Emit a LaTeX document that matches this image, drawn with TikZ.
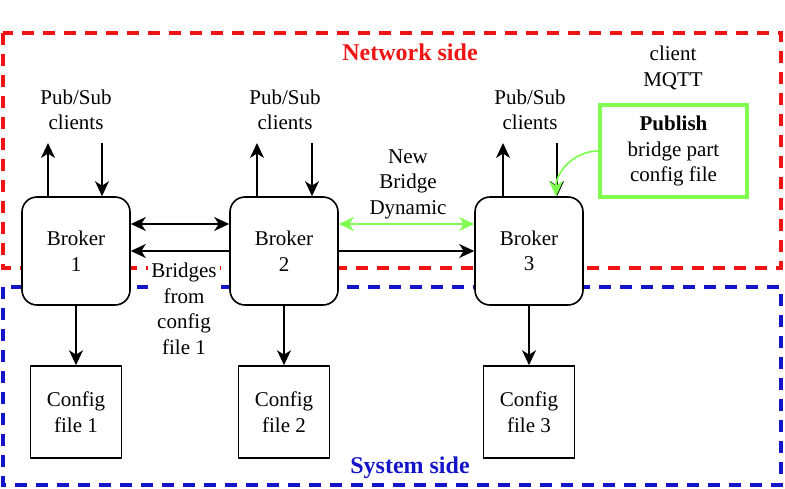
\documentclass[tikz,border=0pt]{standalone}
\usepackage{fontspec}
\setmainfont{Liberation Serif}
\usetikzlibrary{arrows.meta}
\definecolor{netred}{RGB}{240,20,20}
\definecolor{sysblue}{RGB}{20,20,200}
\definecolor{lgreen}{RGB}{128,255,80}
\tikzset{
  x=1pt, y=-1pt,
  tipA/.tip={Stealth[length=15pt,width=14pt,inset=4.5pt]},
  txt/.style={align=center, font=\fontsize{21}{25.5}\selectfont, inner sep=0pt},
  broker/.style={draw, rounded corners=15pt, line width=1.6pt, minimum width=108pt, minimum height=108pt, align=center, font=\fontsize{21}{25.5}\selectfont, inner sep=0pt},
  cfg/.style={draw, line width=1.6pt, minimum width=91pt, minimum height=92pt, align=center, font=\fontsize{21}{25.5}\selectfont, inner sep=0pt},
  arr/.style={line width=1.7pt, -tipA},
  arr2/.style={line width=1.7pt, tipA-tipA},
  garr2/.style={lgreen, line width=1.7pt, tipA-tipA},
  garr/.style={lgreen, line width=1.7pt, -tipA},
  zone/.style={line width=3.5pt, dash pattern=on 12pt off 9pt},
  ttl/.style={font=\fontsize{24}{28}\selectfont\bfseries, inner sep=0pt}
}
\begin{document}
\begin{tikzpicture}
\useasboundingbox (0,0) rectangle (785,489);
% zones
\draw[zone, netred] (3,33) rectangle (781,268);
\draw[zone, sysblue] (3,287) rectangle (781,485);
\node[ttl, text=netred] (nettitle) at (410,52) {Network side};
\node[ttl, text=sysblue] (systitle) at (410,468) {System side};
% brokers
\node[broker, fill=white] (b1) at (76,251) {Broker\\1};
\node[broker, fill=white] (b2) at (284,251) {Broker\\2};
\node[broker, fill=white] (b3) at (529,251) {Broker\\3};
% config files
\node[cfg] (c1) at (76,412) {Config\\file 1};
\node[cfg] (c2) at (284,412) {Config\\file 2};
\node[cfg] (c3) at (529,412) {Config\\file 3};
% pub/sub texts
\node[txt] (ps1) at (76,110) {Pub/Sub\\clients};
\node[txt] (ps2) at (285,110) {Pub/Sub\\clients};
\node[txt] (ps3) at (530,110) {Pub/Sub\\clients};
\coordinate (u1) at (48,143);
\coordinate (d1) at (102,143);
\coordinate (u2) at (257,143);
\coordinate (d2) at (312,143);
\coordinate (u3) at (503,143);
\coordinate (d3) at (557,143);
\draw[arr] (b1.north -| u1) -- (u1);
\draw[arr] (d1) -- (b1.north -| d1);
\draw[arr] (b2.north -| u2) -- (u2);
\draw[arr] (d2) -- (b2.north -| d2);
\draw[arr] (b3.north -| u3) -- (u3);
\draw[arr] (d3) -- (b3.north -| d3);
% broker to config
\draw[arr] (b1) -- (c1);
\draw[arr] (b2) -- (c2);
\draw[arr] (b3) -- (c3);
% bridges
\draw[arr2] ([yshift=27pt]b1.east) -- ([yshift=27pt]b2.west);
\draw[arr] (b2.east) -- (b3.west);
\draw[arr] (b2.west) -- (b1.east);
\draw[garr2] ([yshift=27pt]b2.east) -- ([yshift=27pt]b3.west);
\node[txt, fill=white, inner xsep=3pt, inner ysep=1pt] (brtxt) at (184,309) {Bridges\\from\\config\\file 1};
\node[txt] (newbr) at (408,184) {New\\Bridge\\Dynamic};
% client MQTT
\node[txt] (mqtt) at (673,68) {client\\MQTT};
\node[draw=lgreen, line width=3.5pt, minimum width=147pt, minimum height=92pt, align=center, font=\fontsize{21}{25.5}\selectfont, inner sep=0pt] (pub) at (673.5,151) {\textbf{Publish}\\bridge part\\config file};
\draw[garr] (pub.west) to[out=180, in=90] ([xshift=27pt]b3.north);
\end{tikzpicture}
\end{document}
